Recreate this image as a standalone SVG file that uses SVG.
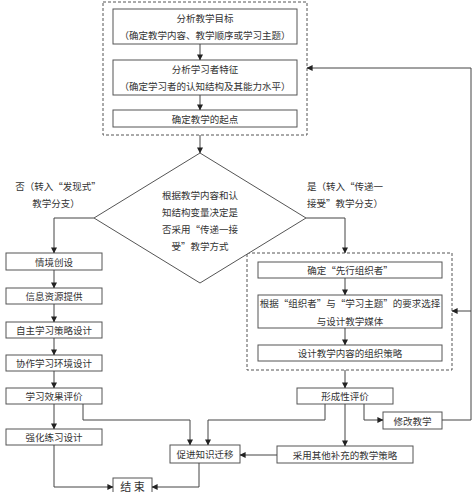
<svg xmlns="http://www.w3.org/2000/svg" width="474" height="492" viewBox="0 0 474 492">
<style>
text{font-family:"Noto Sans CJK SC","Liberation Sans",sans-serif;font-size:9.5px;fill:#333;text-anchor:middle;dominant-baseline:central}
.box{fill:#fff;stroke:#555;stroke-width:1}
.dash{fill:none;stroke:#555;stroke-width:1;stroke-dasharray:3,2}
.ln{fill:none;stroke:#444;stroke-width:1}
.lt{text-anchor:start}
</style>
<defs>
<marker id="ah" viewBox="0 0 8 8" refX="7.5" refY="4" markerWidth="6" markerHeight="6" orient="auto" markerUnits="userSpaceOnUse">
<path d="M0,0 L8,4 L0,8 Z" fill="#222"/>
</marker>
</defs>
<rect width="474" height="492" fill="#fff"/>
<g id="group-top"><rect class="dash" x="103" y="2" width="204" height="133"/></g>
<g id="group-right"><rect class="dash" x="247" y="253" width="205" height="117"/></g>
<g id="n1"><rect class="box" x="113" y="9" width="184" height="35"/><text x="205" y="18">分析教学目标</text><text x="205" y="35">（确定教学内容、教学顺序或学习主题）</text></g>
<g id="n2"><rect class="box" x="113" y="60" width="184" height="35"/><text x="205" y="69">分析学习者特征</text><text x="205" y="86">（确定学习者的认知结构及其能力水平）</text></g>
<g id="n3"><rect class="box" x="113" y="110" width="184" height="17"/><text x="205" y="118.5">确定教学的起点</text></g>
<g id="decision"><path class="box" d="M200,153 L306,218 L200,283 L94,218 Z"/><text x="200" y="195">根据教学内容和认</text><text x="200" y="212">知结构变量决定是</text><text x="200" y="229">否采用“传递一接</text><text x="200" y="246">受”教学方式</text></g>
<g id="label-no"><text x="58" y="186">否（转入“发现式”</text><text x="56" y="203">教学分支）</text></g>
<g id="label-yes"><text class="lt" x="307" y="186">是（转入“传递一</text><text class="lt" x="307" y="203">接受”教学分支）</text></g>
<g id="l1"><rect class="box" x="6" y="253" width="96" height="17"/><text x="54" y="261.5">情境创设</text></g>
<g id="l2"><rect class="box" x="6" y="288" width="96" height="16"/><text x="54" y="296">信息资源提供</text></g>
<g id="l3"><rect class="box" x="6" y="322" width="96" height="16"/><text x="54" y="330">自主学习策略设计</text></g>
<g id="l4"><rect class="box" x="6" y="355" width="96" height="16"/><text x="54" y="363">协作学习环境设计</text></g>
<g id="l5"><rect class="box" x="6" y="388" width="96" height="16"/><text x="54" y="396">学习效果评价</text></g>
<g id="l6"><rect class="box" x="6" y="429" width="96" height="16"/><text x="54" y="437">强化练习设计</text></g>
<g id="r1"><rect class="box" x="258" y="262" width="184" height="16"/><text x="350" y="270">确定“先行组织者”</text></g>
<g id="r2"><rect class="box" x="258" y="295" width="184" height="33"/><text x="350" y="303">根据“组织者”与“学习主题”的要求选择</text><text x="350" y="321">与设计教学媒体</text></g>
<g id="r3"><rect class="box" x="258" y="345" width="184" height="16"/><text x="350" y="353">设计教学内容的组织策略</text></g>
<g id="form"><rect class="box" x="297" y="388" width="96" height="16"/><text x="345" y="396">形成性评价</text></g>
<g id="modify"><rect class="box" x="383" y="412" width="59" height="17"/><text x="412.5" y="420.5">修改教学</text></g>
<g id="other"><rect class="box" x="277" y="446" width="136" height="17"/><text x="345" y="454.5">采用其他补充的教学策略</text></g>
<g id="transfer"><rect class="box" x="170" y="445" width="70" height="18"/><text x="205" y="454">促进知识迁移</text></g>
<g id="end"><rect class="box" x="113" y="478" width="39" height="22"/><text x="132.5" y="485.5" style="font-size:11px">结 束</text></g>
<g id="connectors">
<path class="ln" marker-end="url(#ah)" d="M200,44 V60"/>
<path class="ln" marker-end="url(#ah)" d="M200,95 V110"/>
<path class="ln" marker-end="url(#ah)" d="M200,135 V153"/>
<path class="ln" marker-end="url(#ah)" d="M94,218 H54 V253"/>
<path class="ln" marker-end="url(#ah)" d="M306,218 H345 V253"/>
<path class="ln" marker-end="url(#ah)" d="M54,270 V288"/>
<path class="ln" marker-end="url(#ah)" d="M54,304 V322"/>
<path class="ln" marker-end="url(#ah)" d="M54,338 V355"/>
<path class="ln" marker-end="url(#ah)" d="M54,371 V388"/>
<path class="ln" marker-end="url(#ah)" d="M54,404 V429"/>
<path class="ln" marker-end="url(#ah)" d="M83,404 V420 H190 V445"/>
<path class="ln" marker-end="url(#ah)" d="M54,445 V487 H113"/>
<path class="ln" marker-end="url(#ah)" d="M199,463 V487 H152"/>
<path class="ln" marker-end="url(#ah)" d="M345,278 V295"/>
<path class="ln" marker-end="url(#ah)" d="M345,328 V345"/>
<path class="ln" marker-end="url(#ah)" d="M345,370 V388"/>
<path class="ln" marker-end="url(#ah)" d="M345,404 V446"/>
<path class="ln" marker-end="url(#ah)" d="M325,404 V420 H208 V445"/>
<path class="ln" marker-end="url(#ah)" d="M364,404 V420 H383"/>
<path class="ln" marker-end="url(#ah)" d="M277,455 H240"/>
<path class="ln" marker-end="url(#ah)" d="M442,420 H471 V68 H307"/>
<path class="ln" marker-end="url(#ah)" d="M471,311 H452"/>
</g>
</svg>
